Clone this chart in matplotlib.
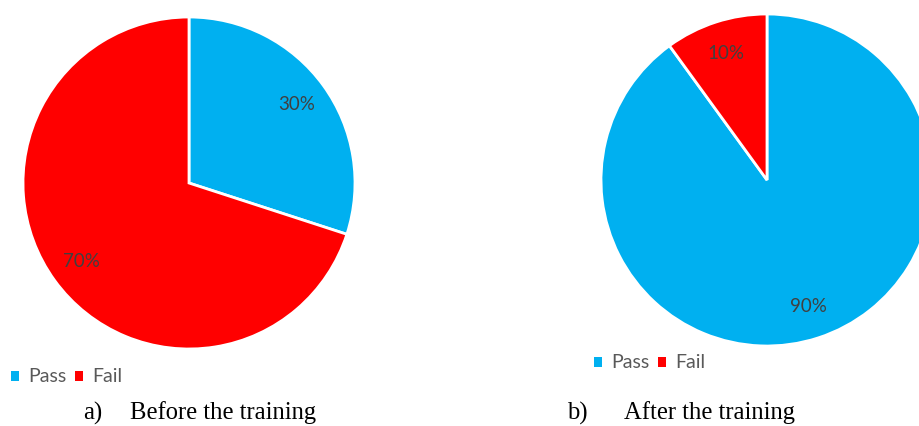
import matplotlib
matplotlib.use("Agg")
import matplotlib.pyplot as plt
from matplotlib.patches import Patch

categories = ["Pass", "Fail"]
before_values = [30, 70]
after_values = [90, 10]
captions = [("a)", "Before the training"), ("b)", "After the training")]
colors = ["#00B0F0", "#FF0000"]

W, H = 920, 426
fig = plt.figure(figsize=(W / 100, H / 100), dpi=100)
fig.patch.set_facecolor("white")

def px_axes(left, top, w, h):
    return fig.add_axes([left / W, (H - top - h) / H, w / W, h / H])

def draw_pie(ax, vals):
    ax.pie(vals, colors=colors, startangle=90, counterclock=False,
           autopct=lambda p: f"{p:.0f}%", pctdistance=0.8,
           wedgeprops=dict(edgecolor="white", linewidth=2),
           textprops=dict(color="#404040", fontsize=13.5, family="Lato"))
    ax.set_xlim(-1, 1)
    ax.set_ylim(-1, 1)
    ax.set_aspect("equal")
    ax.axis("off")

ax1 = px_axes(23, 17, 332, 332)
draw_pie(ax1, before_values)
ax2 = px_axes(601, 14, 332, 332)
draw_pie(ax2, after_values)

handles = [Patch(facecolor=c, edgecolor="none") for c in colors]
for (x, y) in [(11, 377), (594, 363)]:
    fig.legend(handles, categories, ncol=2, frameon=False,
               loc="center left", bbox_to_anchor=(x / W, 1 - y / H),
               handlelength=0.42, handleheight=0.42, handletextpad=0.45,
               columnspacing=0.45, borderaxespad=0, borderpad=0,
               prop=dict(family="Lato", size=14), labelcolor="#595959")

for (xa, xb, y), (lab, txt) in zip([(83, 130, 413), (567, 624, 413)], captions):
    fig.text(xa / W, 1 - y / H, lab, family="Liberation Serif", fontsize=17.7,
             ha="left", va="center", color="black")
    fig.text(xb / W, 1 - y / H, txt, family="Liberation Serif", fontsize=17.7,
             ha="left", va="center", color="black")

fig.savefig("out.png", dpi=100, facecolor="white")
